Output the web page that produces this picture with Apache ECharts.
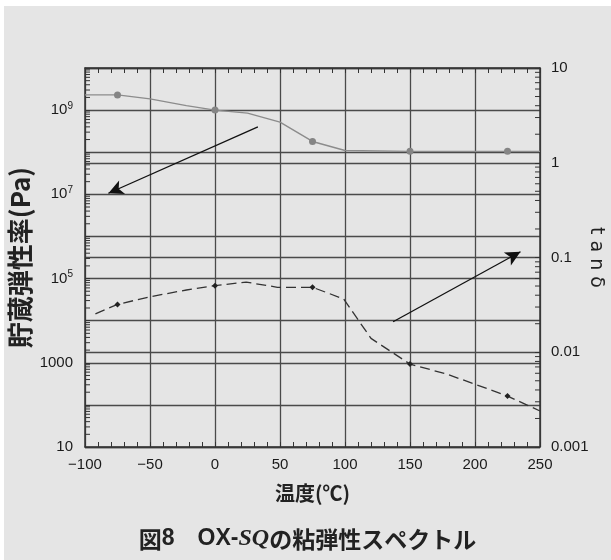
<!DOCTYPE html>
<html>
<head>
<meta charset="utf-8">
<script src="https://cdn.jsdelivr.net/npm/echarts@6/dist/echarts.min.js"></script>
<style>
html, body { margin: 0; padding: 0; background: #fff; }
#main { position: absolute; left: 4px; top: 6px; width: 607px; height: 554px; }
</style>
</head>
<body>
<div id="main"></div>
<script>
// 貯蔵弾性率 (Pa) vs 温度
var storageTemp = [-100, -75, -50, -22, 0, 25, 50, 75, 100, 150, 225, 250];
var storageVal = [2.3e9, 2.3e9, 1.85e9, 1.28e9, 1e9, 8.5e8, 5.2e8, 1.8e8, 1.1e8, 1.05e8, 1.05e8, 1.05e8];
var storageMarks = [-75, 0, 75, 150, 225];

// tan δ vs 温度
var tanTemp = [-92, -75, -50, -22, 0, 24, 48, 75, 99, 120, 150, 178, 200, 225, 250];
var tanVal = [0.0254, 0.032, 0.0385, 0.0454, 0.0504, 0.055, 0.0485, 0.0485, 0.0365, 0.014, 0.0075, 0.0059, 0.0046, 0.00345, 0.0024];
var tanMarks = [-75, 0, 75, 150, 225];

// annotation arrows [from, to]
var storageArrow = [[33, 4.0e8], [-82, 1.06e7]];
var tanArrow = [[137, 0.021], [235, 0.115]];

// axis labels
var leftTickLabels = { 1: '10', 3: '1000', 5: '10{s|5}', 7: '10{s|7}', 9: '10{s|9}' };
var rightTickLabels = { '-3': '0.001', '-2': '0.01', '-1': '0.1', '0': '1', '1': '10' };

// log minor ticks
var minorFactors = [2, 3, 4, 5, 6, 7, 8, 9];
var leftDecades = [10, 100, 1e3, 1e4, 1e5, 1e6, 1e7, 1e8, 1e9];
var rightDecades = [0.001, 0.01, 0.1, 1];

var X_MIN = -100, X_MAX = 250;
var cjk = '"Noto Sans CJK JP", sans-serif';
var narrow = '"Liberation Sans Narrow", "Liberation Sans", sans-serif';

function withMarks(xs, ys, marks) {
    return xs.map(function (x, i) {
        var item = { value: [x, ys[i]] };
        if (marks.indexOf(x) < 0) item.symbol = 'none';
        return item;
    });
}
function minorList(decades) {
    var out = [];
    decades.forEach(function (d) {
        minorFactors.forEach(function (f) { out.push(d * f); });
    });
    return out;
}
function tickSeries(yIdx, xPos, dir, values) {
    return {
        type: 'custom', xAxisIndex: 0, yAxisIndex: yIdx, silent: true, clip: false, z: 5,
        data: values.map(function (v) { return [xPos, v]; }),
        renderItem: function (params, api) {
            var p = api.coord([api.value(0), api.value(1)]);
            return {
                type: 'line',
                shape: { x1: p[0], y1: p[1], x2: p[0] + dir * 5, y2: p[1] },
                style: { stroke: '#333', lineWidth: 1 }
            };
        }
    };
}

var gridLine = { show: true, lineStyle: { color: '#4a4a4a', width: 1.3 } };
var axisLine = { show: true, onZero: false, lineStyle: { color: '#333', width: 1.5 } };

var chart = echarts.init(document.getElementById('main'));
chart.setOption({
    animation: false,
    backgroundColor: '#e5e5e5',
    title: {
        left: 'center', top: 516,
        text: '{a|図}{b|8　OX-}{c|SQ}{a|の粘弾性スペクトル}',
        textStyle: {
            rich: {
                a: { fontFamily: cjk, fontWeight: 'bold', fontSize: 23, color: '#222' },
                b: { fontFamily: '"Liberation Sans", sans-serif', fontSize: 23, color: '#222' },
                c: { fontFamily: '"Liberation Serif", serif', fontWeight: 'bold', fontStyle: 'italic', fontSize: 24, color: '#222' }
            }
        }
    },
    grid: { left: 81, top: 62, right: 71, bottom: 113, outerBoundsMode: 'none' },
    xAxis: [{
        type: 'value', min: X_MIN, max: X_MAX, interval: 50,
        name: '温度(℃)', nameLocation: 'middle', nameGap: 36, nameMoveOverlap: false,
        nameTextStyle: { fontFamily: cjk, fontWeight: 'bold', fontSize: 20, color: '#222' },
        axisLine: axisLine,
        axisTick: { show: true, inside: true, length: 5, lineStyle: { color: '#333' } },
        minorTick: { show: true, splitNumber: 5, length: 5, lineStyle: { color: '#333', width: 1 } },
        axisLabel: {
            margin: 10, fontFamily: narrow, fontSize: 15, color: '#1a1a1a',
            formatter: function (v) { return v < 0 ? '−' + (-v) : String(v); }
        },
        splitLine: gridLine
    }, {
        type: 'value', position: 'top', min: X_MIN, max: X_MAX, interval: 50,
        axisLine: axisLine,
        axisTick: { show: true, inside: true, length: 5, lineStyle: { color: '#333' } },
        minorTick: { show: true, splitNumber: 5, length: 5, lineStyle: { color: '#333', width: 1 } },
        axisLabel: { show: false },
        splitLine: { show: false }
    }],
    yAxis: [{
        type: 'log', logBase: 10, min: 10, max: 1e10, splitNumber: 9,
        name: '貯蔵弾性率(Pa)', nameLocation: 'middle', nameGap: 52, nameRotate: 90, nameMoveOverlap: false,
        nameTextStyle: { fontFamily: cjk, fontWeight: 'bold', fontSize: 26, color: '#222' },
        axisLine: axisLine,
        axisTick: { show: true, inside: true, length: 5, lineStyle: { color: '#333' } },
        axisLabel: {
            margin: 12, fontFamily: narrow, fontSize: 15, color: '#1a1a1a',
            formatter: function (v) {
                var e = Math.round(Math.log10(v));
                return leftTickLabels[e] || '';
            },
            rich: { s: { fontFamily: narrow, fontSize: 10, color: '#1a1a1a', padding: [0, 0, 8, 0] } }
        },
        splitLine: gridLine
    }, {
        type: 'log', logBase: 10, min: 0.001, max: 10, splitNumber: 4, position: 'right',
        name: 't a n δ', nameLocation: 'middle', nameGap: 46, nameRotate: -90, nameMoveOverlap: false,
        nameTextStyle: { fontFamily: '"DejaVu Sans", sans-serif', fontSize: 19, color: '#222' },
        axisLine: axisLine,
        axisTick: { show: true, inside: true, length: 5, lineStyle: { color: '#333' } },
        axisLabel: {
            margin: 11, fontFamily: '"Liberation Sans", sans-serif', fontSize: 15, color: '#1a1a1a',
            formatter: function (v) {
                var e = Math.round(Math.log10(v));
                return rightTickLabels[String(e)] || '';
            }
        },
        splitLine: gridLine
    }],
    series: [{
        name: '貯蔵弾性率', type: 'line', xAxisIndex: 0, yAxisIndex: 0, z: 6,
        data: withMarks(storageTemp, storageVal, storageMarks),
        symbol: 'circle', symbolSize: 7,
        lineStyle: { color: '#8c8c8c', width: 1.4 },
        itemStyle: { color: '#858585' },
        markLine: {
            silent: true, symbol: ['none', 'arrow'], symbolSize: [11, 15],
            label: { show: false },
            lineStyle: { color: '#111', width: 1.3, type: 'solid' },
            data: [[{ coord: storageArrow[0] }, { coord: storageArrow[1] }]]
        }
    }, {
        name: 'tan δ', type: 'line', xAxisIndex: 0, yAxisIndex: 1, z: 6,
        data: withMarks(tanTemp, tanVal, tanMarks),
        symbol: 'diamond', symbolSize: 6,
        lineStyle: { color: '#333', width: 1.3, type: [10, 5] },
        itemStyle: { color: '#222' },
        markLine: {
            silent: true, symbol: ['none', 'arrow'], symbolSize: [11, 15],
            label: { show: false },
            lineStyle: { color: '#111', width: 1.3, type: 'solid' },
            data: [[{ coord: tanArrow[0] }, { coord: tanArrow[1] }]]
        }
    },
    tickSeries(0, X_MIN, 1, minorList(leftDecades)),
    tickSeries(1, X_MAX, -1, minorList(rightDecades))]
});
</script>
</body>
</html>
